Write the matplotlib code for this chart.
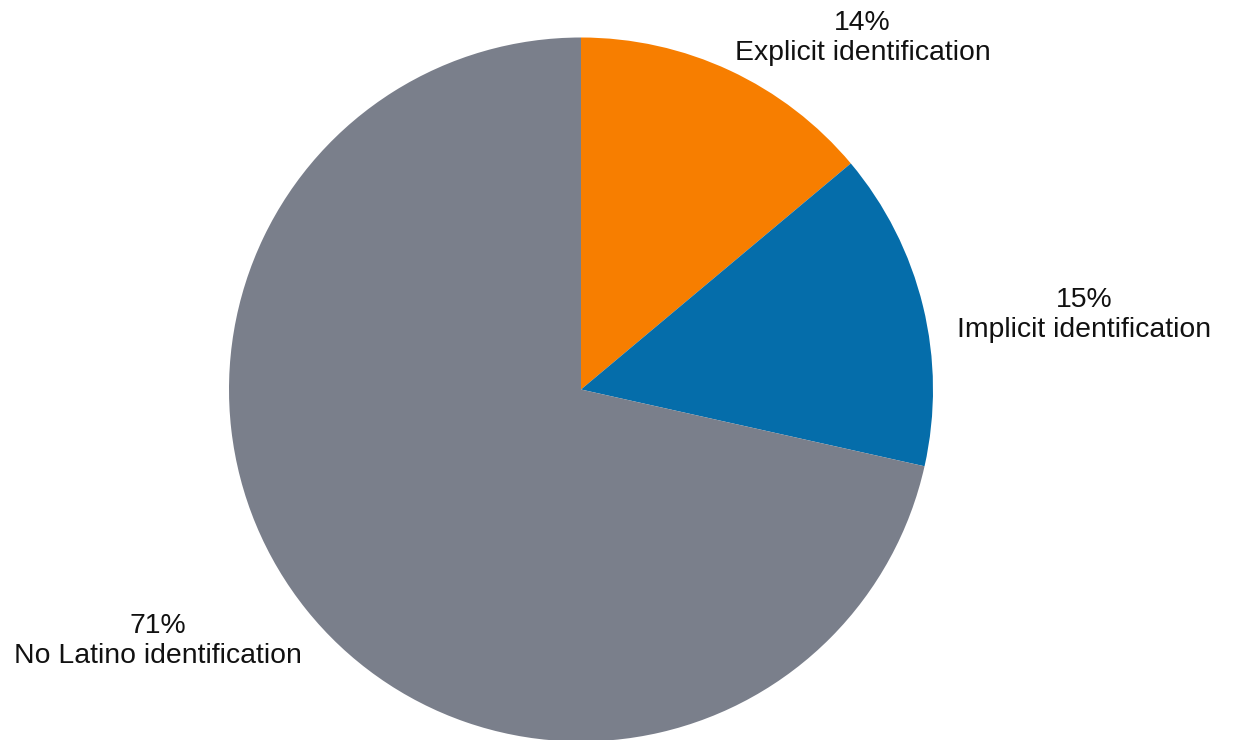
import matplotlib.pyplot as plt

# Share of stories by type of Latino identification
categories = ["Explicit identification", "Implicit identification", "No Latino identification"]
shares = [13.9, 14.6, 71.5]
pct_labels = ["14%", "15%", "71%"]
colors = ["#F77E00", "#056DAA", "#7A7F8B"]

labels = [f"{p}\n{c}" for p, c in zip(pct_labels, categories)]

plt.rcParams["font.family"] = ["Liberation Sans", "DejaVu Sans"]

fig = plt.figure(figsize=(12.33, 7.4), dpi=100)
ax = fig.add_axes([0, 0, 1, 1])

wedges, _ = ax.pie(
    shares,
    colors=colors,
    startangle=90,
    counterclock=False,
    radius=1.0,
)

# label centres, in units of the pie radius
label_pos = [(0.800, 0.999), (1.429, 0.212), (-1.202, -0.714)]
for (x, y), text in zip(label_pos, labels):
    ax.text(x, y, text, ha="center", va="center", multialignment="center",
            fontsize=20.4, color="#111111", linespacing=1.2)

# pie centre sits at (581, 389.5) px, radius 352 px
ax.set_xlim(-581 / 352, (1233 - 581) / 352)
ax.set_ylim((389.5 - 740) / 352, 389.5 / 352)
ax.set_aspect("equal", adjustable="box")
ax.axis("off")

fig.savefig("out.png", dpi=100)
